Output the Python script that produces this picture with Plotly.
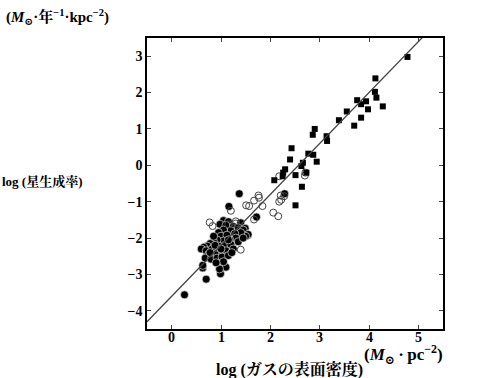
import plotly.graph_objects as go

# --- data (log gas surface density, log star formation rate) ---
starburst_x = [4.78, 4.13, 4.12, 4.15, 3.76, 3.94, 3.84, 3.98, 4.28, 3.55, 3.84, 3.39, 3.70,
               2.90, 2.86, 3.14, 3.15, 2.43, 2.77, 2.87, 2.40, 2.94, 2.66, 2.63, 2.30, 2.26,
               2.73, 2.51, 2.25, 2.08, 2.64, 2.51]
starburst_y = [2.98, 2.39, 2.02, 1.86, 1.79, 1.76, 1.68, 1.54, 1.62, 1.48, 1.31, 1.24, 1.09,
               1.00, 0.84, 0.80, 0.67, 0.47, 0.32, 0.29, 0.16, 0.10, 0.07, -0.02, -0.11, -0.20,
               -0.20, -0.27, -0.30, -0.41, -0.59, -1.10]

disk_x = [1.37, 1.16, 1.72, 0.26, 0.70, 0.63, 0.63, 0.99, 1.10, 0.97, 1.00, 2.29, 1.40, 1.49,
          1.54, 1.54,
          1.05, 1.15, 0.98, 1.10, 1.25, 1.35, 1.45, 1.55, 1.50, 1.40, 1.20, 1.05, 0.95, 1.00,
          1.12, 1.28, 1.30, 1.18, 1.05, 0.92, 0.85, 0.78, 0.72, 0.65, 0.60, 0.70, 0.82, 0.95,
          1.08, 1.20, 1.25, 1.10, 0.98, 0.88, 0.75, 0.68, 0.80, 0.92, 1.02, 1.15, 1.05, 0.90,
          0.78, 1.35, 1.22, 0.88, 1.00, 1.15, 0.85, 1.45]
disk_y = [-0.78, -1.13, -1.42, -3.56, -3.13, -2.82, -2.75, -2.98, -2.80, -2.85, -2.55, -0.78,
          -1.58, -1.73, -1.92, -1.90,
          -1.52, -1.55, -1.62, -1.65, -1.68, -1.72, -1.78, -1.90, -1.95, -1.85, -1.80, -1.78,
          -1.85, -1.95, -1.92, -1.88, -2.00, -2.05, -2.08, -2.05, -2.10, -2.15, -2.22, -2.25,
          -2.30, -2.35, -2.30, -2.22, -2.20, -2.18, -2.30, -2.35, -2.40, -2.45, -2.45, -2.55,
          -2.58, -2.55, -2.52, -2.48, -2.65, -2.68, -2.40, -2.10, -2.40, -2.20, -2.30, -2.05,
          -1.95, -2.00]

open_x = [0.77, 0.83, 1.20, 1.30, 1.40, 1.51, 1.57, 1.67, 1.77, 1.84, 1.67, 2.06, 2.16, 2.18,
          2.22, 2.28, 2.18, 2.70, 2.71, 1.76, 2.21, 1.15, 1.30]
open_y = [-1.57, -1.67, -1.25, -1.54, -2.32, -1.10, -1.12, -0.97, -0.89, -1.12, -1.49, -1.30,
          -1.40, -1.00, -0.95, -0.85, -0.30, -0.28, -0.20, -0.83, -0.83, -1.62, -1.60]

fit_slope = 1.4
fit_intercept = -3.6

x_range = [-0.5, 5.5]
y_range = [-4.5, 3.5]
x_ticks = [0, 1, 2, 3, 4, 5]
x_tick_text = ["0", "1", "2", "3", "4", "5"]
y_ticks = [-4, -3, -2, -1, 0, 1, 2, 3]
y_tick_text = ["\u22124", "\u22123", "\u22122", "\u22121", "0", "1", "2", "3"]

serif = "Liberation Serif, DejaVu Serif, Noto Serif CJK JP, Noto Sans CJK JP"

fig = go.Figure()
fig.add_trace(go.Scatter(x=disk_x, y=disk_y, mode="markers",
                         marker=dict(symbol="circle", size=8, color="black",
                                     line=dict(color="white", width=0.6))))
fig.add_trace(go.Scatter(x=open_x, y=open_y, mode="markers",
                         marker=dict(symbol="circle-open", size=7, color="#444",
                                     line=dict(width=1))))
fig.add_trace(go.Scatter(x=starburst_x, y=starburst_y, mode="markers",
                         marker=dict(symbol="square", size=6, color="black")))
fit_x = list(x_range)
fit_y = [fit_slope * v + fit_intercept for v in fit_x]
fig.add_trace(go.Scatter(x=fit_x, y=fit_y, mode="lines",
                         line=dict(color="#444", width=1.3)))

tick_font = dict(family=serif, size=14, color="black", weight="bold")
axis_common = dict(showgrid=False, zeroline=False, showline=True, linecolor="black",
                   linewidth=1.5, mirror="ticks", ticks="inside", ticklen=4,
                   tickcolor="#444", tickwidth=1, tickfont=tick_font)

fig.update_xaxes(range=x_range, tickvals=x_ticks, showticklabels=False, **axis_common)
fig.update_yaxes(range=y_range, tickvals=y_ticks, ticktext=y_tick_text, **axis_common)

fig.update_layout(
    width=499, height=378,
    margin=dict(l=147, r=56, t=38, b=49),
    plot_bgcolor="white", paper_bgcolor="white",
    showlegend=False,
    font=dict(family=serif, color="black"),
)

# x tick labels placed closer to the axis, as in the reference
for xv, xt in zip(x_ticks, x_tick_text):
    fig.add_annotation(text=xt, x=xv, xref="x", yref="paper", y=-(337 - 329) / 291,
                       xanchor="center", yanchor="middle", showarrow=False, font=tick_font)

lab_font = dict(family=serif, size=15, color="black", weight="bold")
fig.add_annotation(text="(<i>M</i><sub>\u2299</sub>\u00b7年<sup>\u22121</sup>\u00b7kpc<sup>\u22122</sup>)",
                   xref="paper", yref="paper", x=-143/296, y=1 + 21/291,
                   xanchor="left", yanchor="middle", showarrow=False, font=lab_font)
fig.add_annotation(text="log (星生成率)", xref="paper", yref="paper",
                   x=-147/296, y=(329 - 181) / 291, xanchor="left", yanchor="middle",
                   showarrow=False, font=dict(family=serif, size=13, color="black", weight="bold"))
fig.add_annotation(text="(<i>M</i><sub>\u2299</sub>\u2009\u00b7\u2009pc<sup>\u22122</sup>)",
                   xref="paper", yref="paper", x=(445 - 147) / 296, y=-(354 - 329) / 291,
                   xanchor="right", yanchor="middle", showarrow=False,
                   font=dict(family=serif, size=17, color="black", weight="bold"))
fig.add_annotation(text="log (ガスの表面密度)", xref="paper", yref="paper",
                   x=(289 - 147) / 296, y=-(369 - 329) / 291, xanchor="center",
                   yanchor="middle", showarrow=False,
                   font=dict(family=serif, size=16, color="black", weight="bold"))

fig.write_html("out.html")
